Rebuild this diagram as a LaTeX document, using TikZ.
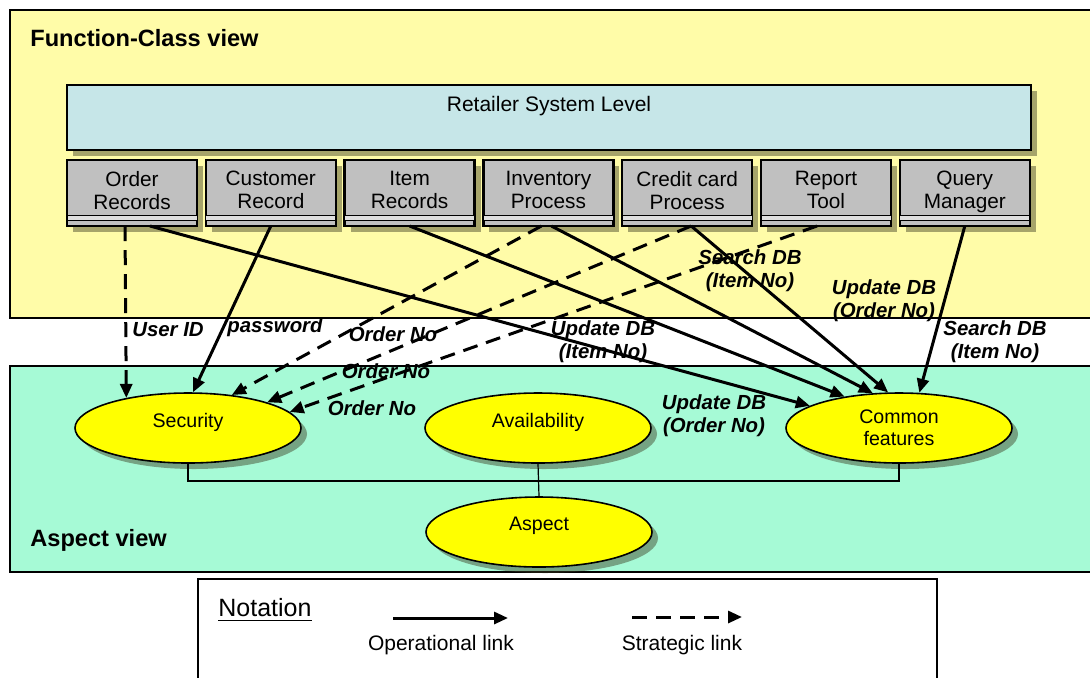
\documentclass[tikz,border=0pt]{standalone}
\usepackage{fontspec}
\setmainfont{Liberation Sans}
\usetikzlibrary{positioning,arrows.meta,shapes.geometric,shadows}
\definecolor{fcview}{HTML}{FFFCA8}
\definecolor{asview}{HTML}{A6FAD6}
\definecolor{syslevel}{HTML}{C6E6E8}
\definecolor{recgray}{HTML}{C0C0C0}
\definecolor{aspyellow}{HTML}{FFFF00}
\definecolor{shade}{HTML}{3A3A20}

\begin{document}
\begin{tikzpicture}[x=0.5pt,y=-0.5pt,
  region/.style={draw, line width=1pt},
  soft/.style={drop shadow={shadow xshift=3pt, shadow yshift=-3pt, fill=shade, opacity=0.45}},
  fnbox/.style={draw, line width=1.2pt, fill=recgray, soft, minimum width=65pt, minimum height=33pt,
    inner sep=0pt, outer sep=0pt, text depth=3pt, align=center, font=\fontsize{10.4}{11.5}\selectfont},
  aspect/.style={ellipse, draw, line width=0.8pt, fill=aspyellow, soft, minimum width=113pt,
    minimum height=35pt, inner sep=0pt, align=center, font=\fontsize{9.8}{10.8}\selectfont},
  lift/.style={text depth=8pt},
  oplink/.style={line width=1.5pt, -{Triangle[length=7pt,width=6pt]}},
  stlink/.style={oplink, dash pattern=on 7.5pt off 4.5pt},
  lbl/.style={inner sep=0pt, align=center, font=\fontsize{10.2}{11.5}\selectfont\bfseries\itshape},
  title/.style={anchor=west, inner sep=0pt, font=\fontsize{11.8}{13}\selectfont\bfseries}
]
\useasboundingbox (0,0) rectangle (1090,677);

% the two views
\draw[region, fill=fcview] (10,10) rectangle (1100,318);
\draw[region, fill=asview] (10,366) rectangle (1100,572);
\node[title] (fctitle) at (30,38) {Function-Class view};
\node[title] (astitle) at (30,540) {Aspect view};

% function-class view
\node[draw, line width=1.2pt, fill=syslevel, soft, minimum width=482pt, minimum height=32.5pt] (sys) at (549,117.5) {};
\node[below=6pt of sys.north, inner sep=0pt, font=\fontsize{10.5}{12}\selectfont] (systitle) {Retailer System Level};

\node[fnbox] (ord) at (132,193) {Order\\Records};
\node[fnbox, right=4.4pt of ord] (cus) {Customer\\Record};
\node[fnbox, right=4.4pt of cus] (itm) {Item\\Records};
\node[fnbox, right=4.4pt of itm] (inv) {Inventory\\Process};
\node[fnbox, right=4.4pt of inv] (crd) {Credit card\\Process};
\node[fnbox, right=4.4pt of crd] (rep) {Report\\Tool};
\node[fnbox, right=4.4pt of rep] (qry) {Query\\Manager};
\foreach \b in {ord,cus,itm,inv,crd,rep,qry} {
  \draw[line width=0.5pt, fill=gray!25] ([yshift=3pt]\b.south west) rectangle ([yshift=5.5pt]\b.south east);
}

% aspect view
\node[aspect, lift] (sec) at (188,428) {Security};
\node[aspect, lift] (avl) at (538,428) {Availability};
\node[aspect] (cmn) at (899,428) {Common\\features};
\node[aspect, lift] (asp) at (539,532) {Aspect};
\coordinate (bus) at (539,481);
\draw[line width=0.6pt] (sec.south) |- (bus) -| (cmn.south);
\draw[line width=0.6pt] (avl.south) -- (asp.north);

% strategic links
\path[stlink]
  ([xshift=-3.5pt]ord.south) edge (sec.154)
  ([xshift=-3.5pt]inv.south) edge (sec.37)
  ([xshift=2pt]crd.south) edge (sec.18)
  ([xshift=-4.5pt]rep.south) edge (sec.9);
% operational links
\path[oplink]
  ([xshift=9pt]ord.south) edge (cmn.166)
  (cus.south) edge (sec.82)
  (itm.south) edge (cmn.150)
  ([xshift=1.5pt]inv.south) edge (cmn.127)
  ([xshift=2pt]crd.south) edge (cmn.107)
  (qry.south) edge (cmn.60);

\node[lbl] (l1) at (168,330) {User ID};
\node[lbl] (l2) at (275,327) {password};
\node[lbl] (l3) at (393,334) {Order No};
\node[lbl] (l4) at (386,371) {Order No};
\node[lbl] (l5) at (372,408) {Order No};
\node[lbl] (l6) at (603,342) {Update DB\\(Item No)};
\node[lbl] (l7) at (750,271) {Search DB\\(Item No)};
\node[lbl] (l8) at (884,301) {Update DB\\(Order No)};
\node[lbl] (l9) at (995,342) {Search DB\\(Item No)};
\node[lbl] (l10) at (714,416) {Update DB\\(Order No)};

% notation
\draw[line width=1pt, fill=white] (198,579) rectangle (937,690);
\node[anchor=west, inner sep=0pt, font=\fontsize{12.5}{14}\selectfont] (nottitle) at (218,610) {\underline{Notation}};
\coordinate (ops) at (393,618);
\coordinate (ope) at (508,618);
\coordinate (sts) at (632,617);
\coordinate (ste) at (742,617);
\draw[oplink] (ops) -- (ope);
\draw[stlink] (sts) -- (ste);
\node[font=\fontsize{10.5}{12}\selectfont] (oplbl) at (441,645) {Operational link};
\node[font=\fontsize{10.5}{12}\selectfont] (stlbl) at (682,645) {Strategic link};
\end{tikzpicture}
\end{document}
